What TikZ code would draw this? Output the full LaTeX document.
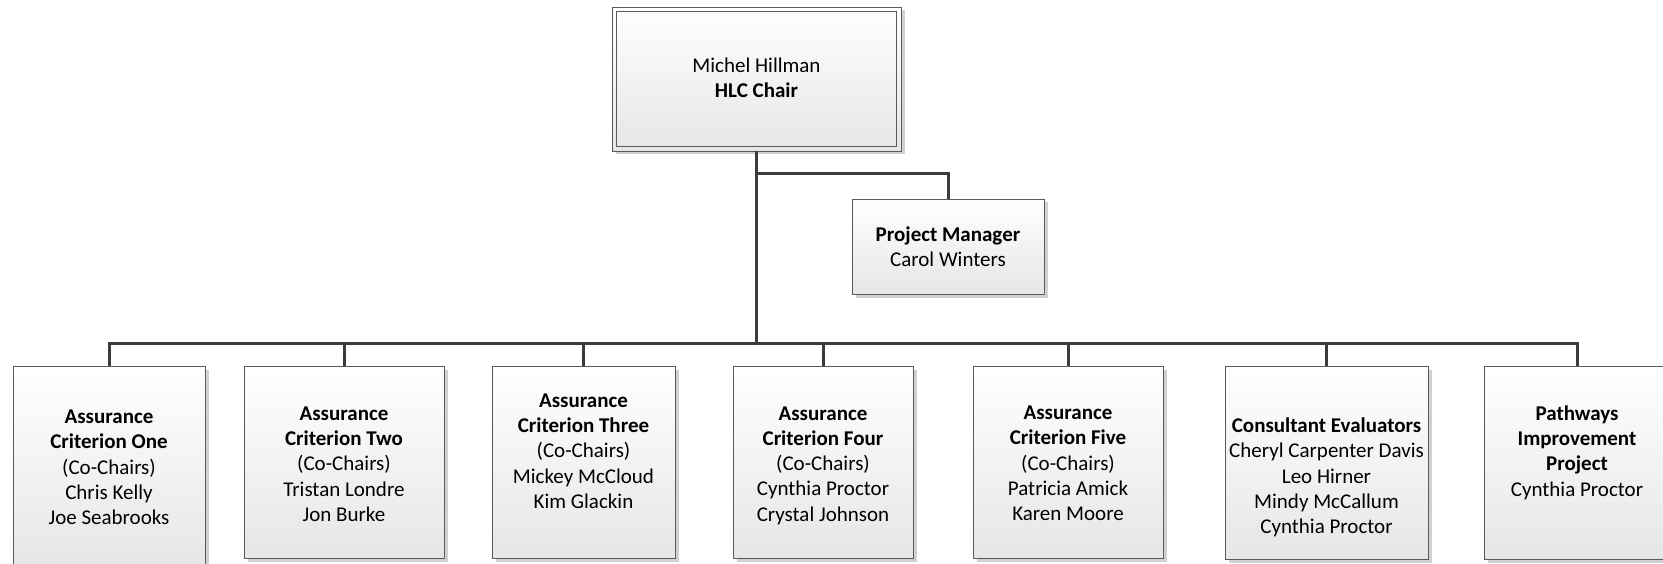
\documentclass[tikz,border=0pt]{standalone}
\usepackage{fontspec}
\setmainfont{Carlito}
\usetikzlibrary{shadows}
\definecolor{linecol}{HTML}{3C3C3C}
\definecolor{boxline}{HTML}{5A5A5A}
\definecolor{boxbot}{HTML}{E6E6E6}
\begin{document}
\begin{tikzpicture}[x=1pt,y=-1pt,
  boxshape/.style={draw=boxline, line width=0.9pt, rectangle, inner sep=0pt,
    top color=white, bottom color=boxbot,
    drop shadow={shadow xshift=3.5pt, shadow yshift=-3.5pt, fill=black!18, opacity=1}},
  txt/.style={align=center, inner sep=0pt, font=\fontsize{21}{25.3}\selectfont},
  conn/.style={draw=linecol, line width=3pt}]
\useasboundingbox (0,0) rectangle (1663,564);
% top box
\node[boxshape, minimum width=289pt, minimum height=144pt] (top) at (756.5,79) {};
\draw[boxline, line width=0.9pt] ([shift={(5pt,-5pt)}]top.north west) rectangle ([shift={(-5pt,5pt)}]top.south east);
\node[txt] (toptext) at (756.5,78) {Michel Hillman\\\textbf{HLC Chair}};
% project manager
\node[boxshape, minimum width=192pt, minimum height=95pt] (pm) at (948,246.5) {};
\node[txt] (pmtext) at (948,247) {\textbf{Project Manager}\\Carol Winters};
% bottom boxes
\node[boxshape, minimum width=192pt, minimum height=203pt] (b1) at (109,467.5) {};
\node[boxshape, minimum width=200pt, minimum height=192pt] (b2) at (344,462) {};
\node[boxshape, minimum width=183pt, minimum height=192pt] (b3) at (583.5,462) {};
\node[boxshape, minimum width=180pt, minimum height=192pt] (b4) at (823,462) {};
\node[boxshape, minimum width=190pt, minimum height=192pt] (b5) at (1068,462) {};
\node[boxshape, minimum width=203pt, minimum height=193pt] (b6) at (1326.5,462.5) {};
\node[boxshape, minimum width=186pt, minimum height=193pt] (b7) at (1577,462.5) {};
\node[txt] (t1) at (109,467.5) {\textbf{Assurance}\\\textbf{Criterion One}\\(Co-Chairs)\\Chris Kelly\\Joe Seabrooks};
\node[txt] (t2) at (344,464) {\textbf{Assurance}\\\textbf{Criterion Two}\\(Co-Chairs)\\Tristan Londre\\Jon Burke};
\node[txt] (t3) at (583.5,451) {\textbf{Assurance}\\\textbf{Criterion Three}\\(Co-Chairs)\\Mickey McCloud\\Kim Glackin};
\node[txt] (t4) at (823,465.5) {\textbf{Assurance}\\\textbf{Criterion Four}\\(Co-Chairs)\\Cynthia Proctor\\Crystal Johnson};
\node[txt] (t5) at (1068,463.5) {\textbf{Assurance}\\\textbf{Criterion Five}\\(Co-Chairs)\\Patricia Amick\\Karen Moore};
\node[txt] (t6) at (1326.5,477.5) {\textbf{Consultant Evaluators}\\Cheryl Carpenter Davis\\Leo Hirner\\Mindy McCallum\\Cynthia Proctor};
\node[txt] (t7) at (1577,452.5) {\textbf{Pathways}\\\textbf{Improvement}\\\textbf{Project}\\Cynthia Proctor};
% connectors
\coordinate (pmy) at (0,174);
\coordinate (busy) at (0,343);
\draw[conn] (top.south |- pmy) -| (pm.north);
\foreach \b in {b1,b2,b3,b4,b5,b6,b7}{
  \draw[conn] (top.south) -- (top.south |- busy) -| (\b.north);
}
\end{tikzpicture}
\end{document}
